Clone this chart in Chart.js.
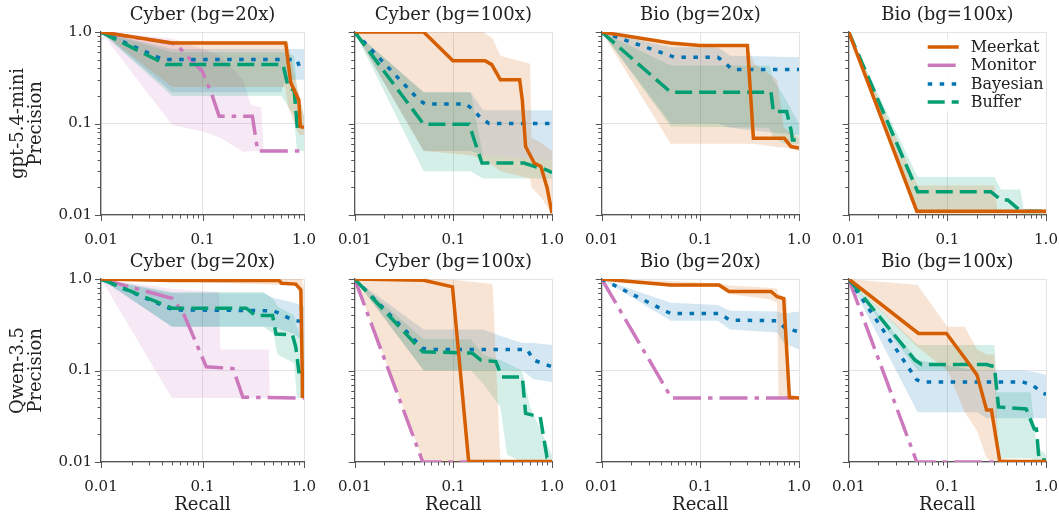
<!DOCTYPE html>
<html><head><meta charset="utf-8">
<script src="https://cdn.jsdelivr.net/npm/chart.js@4.4.1/dist/chart.umd.min.js"></script>
<style>
html,body{margin:0;padding:0;background:#fff;}
#wrap{position:relative;width:1059px;height:514px;overflow:hidden;background:#fff;}
#wrap canvas{position:absolute;}
</style></head><body><div id="wrap"></div>
<script>
// ---------- labels ----------
const seriesNames = ['Meerkat', 'Monitor', 'Bayesian', 'Buffer'];
const rowNames = ['gpt-5.4-mini', 'Qwen-3.5'];
const panelTitles = ['Cyber (bg=20x)', 'Cyber (bg=100x)', 'Bio (bg=20x)', 'Bio (bg=100x)'];
const majorTicks = [0.01, 0.1, 1];
const majorTickLabels = ['0.01', '0.1', '1.0'];
const xAxisTitle = 'Recall';
const yAxisTitle = 'Precision';

// ---------- data: lines [recall, precision]; bands [recall, low, high] ----------
// Row 1 (gpt-5.4-mini), Cyber 20x
const A_meerkat = [[0.01,1],[0.05,0.76],[0.66,0.76],[0.74,0.28],[0.89,0.18],[0.92,0.093],[1,0.09]];
const A_monitor = [[0.01,1],[0.055,0.74],[0.07,0.55],[0.1,0.37],[0.125,0.2],[0.146,0.12],[0.31,0.12],[0.35,0.05],[1,0.05]];
const A_bayesian = [[0.01,1],[0.041,0.5],[0.85,0.5],[0.9,0.42],[1,0.42]];
const A_buffer = [[0.01,1],[0.044,0.44],[0.62,0.44],[0.7,0.25],[0.8,0.23],[0.86,0.089],[1,0.088]];
const A_meerkatBand = [[0.01,1,1],[0.05,0.25,0.8],[0.65,0.25,0.8],[0.7,0.15,0.75],[0.8,0.1,0.35],[0.9,0.075,0.2],[1,0.075,0.12]];
const A_monitorBand = [[0.01,1,1],[0.05,0.097,0.85],[0.1,0.082,0.65],[0.15,0.07,0.55],[0.25,0.049,0.3],[0.3,0.05,0.16],[0.38,0.05,0.15],[0.4,0.05,0.05],[1,0.05,0.05]];
const A_bayesianBand = [[0.01,1,1],[0.05,0.22,0.65],[0.6,0.22,0.65],[0.65,0.3,0.65],[1,0.3,0.65]];
const A_bufferBand = [[0.01,1,1],[0.05,0.2,0.6],[0.6,0.2,0.6],[0.8,0.12,0.55],[0.85,0.05,0.25],[1,0.05,0.12]];

// Row 1, Cyber 100x
const B_meerkat = [[0.01,1],[0.05,1],[0.099,0.485],[0.21,0.485],[0.245,0.44],[0.3,0.3],[0.47,0.3],[0.5,0.18],[0.54,0.056],[0.66,0.037],[0.77,0.034],[0.89,0.02],[1,0.0105]];
const B_bayesian = [[0.01,1],[0.045,0.18],[0.052,0.163],[0.135,0.163],[0.16,0.14],[0.19,0.115],[0.23,0.1],[1,0.1]];
const B_buffer = [[0.01,1],[0.05,0.098],[0.145,0.098],[0.16,0.07],[0.195,0.037],[0.52,0.037],[0.66,0.034],[0.89,0.031],[1,0.029]];
const B_meerkatBand = [[0.01,1,1],[0.05,0.05,1],[0.15,0.045,1],[0.2,0.04,1],[0.25,0.035,0.85],[0.3,0.03,0.55],[0.6,0.025,0.45],[0.62,0.02,0.07],[0.8,0.015,0.06],[1,0.01,0.05]];
const B_bayesianBand = [[0.01,1,1],[0.05,0.05,0.22],[0.15,0.05,0.22],[0.2,0.045,0.14],[1,0.04,0.14]];
const B_bufferBand = [[0.01,1,1],[0.05,0.03,0.22],[0.15,0.03,0.22],[0.2,0.025,0.045],[1,0.025,0.04]];

// Row 1, Bio 20x
const C_meerkat = [[0.01,1],[0.05,0.76],[0.099,0.71],[0.3,0.71],[0.345,0.069],[0.71,0.069],[0.83,0.056],[1,0.054]];
const C_bayesian = [[0.01,1],[0.05,0.55],[0.054,0.53],[0.15,0.53],[0.17,0.48],[0.21,0.39],[1,0.39]];
const C_buffer = [[0.01,1],[0.05,0.22],[0.52,0.22],[0.55,0.135],[0.75,0.135],[0.83,0.085],[0.86,0.066],[1,0.066]];
const C_meerkatBand = [[0.01,1,1],[0.05,0.06,0.72],[0.3,0.06,0.72],[0.35,0.06,0.45],[0.6,0.055,0.3],[0.7,0.055,0.09],[1,0.05,0.07]];
const C_bayesianBand = [[0.01,1,1],[0.05,0.1,0.68],[0.15,0.1,0.68],[0.2,0.09,0.55],[0.5,0.08,0.54],[1,0.075,0.53]];
const C_bufferBand = [[0.01,1,1],[0.05,0.093,0.43],[0.5,0.09,0.43],[0.55,0.07,0.3],[0.7,0.06,0.2],[1,0.06,0.1]];

// Row 1, Bio 100x
const D_meerkat = [[0.01,1],[0.049,0.011],[1,0.011]];
const D_buffer = [[0.01,1],[0.05,0.018],[0.275,0.018],[0.35,0.0146],[0.41,0.0146],[0.54,0.0113],[0.6,0.011],[1,0.011]];
const D_meerkatBand = [[0.01,1,1],[0.05,0.01,0.021],[0.3,0.01,0.021],[0.32,0.01,0.0115],[1,0.01,0.0115]];
const D_bufferBand = [[0.01,1,1],[0.05,0.011,0.026],[0.3,0.011,0.026],[0.35,0.011,0.019],[0.55,0.011,0.019],[0.6,0.01,0.011],[1,0.01,0.011]];

// Row 2 (Qwen-3.5), Cyber 20x
const E_meerkat = [[0.01,1],[0.05,0.96],[0.57,0.96],[0.6,0.9],[0.83,0.88],[0.93,0.76],[0.96,0.1],[0.965,0.05]];
const E_monitor = [[0.01,1],[0.051,0.61],[0.065,0.42],[0.109,0.11],[0.2,0.105],[0.25,0.051],[1,0.05]];
const E_bayesian = [[0.01,1],[0.051,0.46],[0.5,0.45],[0.78,0.355],[1,0.34]];
const E_buffer = [[0.01,1],[0.05,0.48],[0.27,0.48],[0.33,0.4],[0.49,0.4],[0.53,0.25],[0.77,0.245],[0.83,0.18],[0.89,0.097],[1,0.097]];
const E_meerkatBand = [[0.01,1,1],[0.9,0.85,1],[0.95,0.1,1],[1,0.05,0.8]];
const E_monitorBand = [[0.01,1,1],[0.05,0.05,0.78],[0.145,0.05,0.72],[0.15,0.05,0.17],[0.45,0.05,0.17],[0.46,0.05,0.05],[1,0.05,0.05]];
const E_bayesianBand = [[0.01,1,1],[0.05,0.3,0.7],[0.4,0.3,0.7],[0.5,0.3,0.62],[0.8,0.25,0.55],[1,0.2,0.5]];
const E_bufferBand = [[0.01,1,1],[0.05,0.3,0.72],[0.4,0.3,0.72],[0.5,0.25,0.6],[0.55,0.15,0.5],[0.8,0.12,0.4],[0.85,0.05,0.3],[1,0.05,0.2]];

// Row 2, Cyber 100x
const F_meerkat = [[0.01,1],[0.05,0.97],[0.098,0.82],[0.143,0.0101],[1,0.0101]];
const F_monitor = [[0.01,1],[0.049,0.01],[1,0.01]];
const F_bayesian = [[0.01,1],[0.049,0.175],[0.055,0.17],[0.56,0.17],[0.65,0.13],[1,0.11]];
const F_buffer = [[0.01,1],[0.049,0.16],[0.155,0.155],[0.19,0.13],[0.27,0.125],[0.31,0.085],[0.5,0.085],[0.54,0.034],[0.76,0.031],[0.89,0.0112],[1,0.011]];
const F_meerkatBand = [[0.01,1,1],[0.05,0.01,1],[0.1,0.01,0.98],[0.25,0.01,0.88],[0.3,0.01,0.01],[1,0.01,0.01]];
const F_bayesianBand = [[0.01,1,1],[0.05,0.1,0.28],[0.2,0.1,0.28],[0.3,0.1,0.24],[0.5,0.1,0.2],[0.65,0.08,0.2],[1,0.075,0.19]];
const F_bufferBand = [[0.01,1,1],[0.05,0.1,0.22],[0.15,0.1,0.22],[0.2,0.072,0.15],[0.3,0.04,0.13],[0.35,0.012,0.12],[0.5,0.01,0.1],[0.6,0.01,0.04],[1,0.01,0.012]];

// Row 2, Bio 20x
const G_meerkat = [[0.01,1],[0.05,0.86],[0.155,0.86],[0.195,0.73],[0.52,0.73],[0.6,0.64],[0.7,0.61],[0.8,0.051],[1,0.05]];
const G_monitor = [[0.01,1],[0.051,0.05],[1,0.05]];
const G_bayesian = [[0.01,1],[0.05,0.42],[0.155,0.42],[0.2,0.355],[0.6,0.35],[0.73,0.29],[1,0.265]];
const G_meerkatBand = [[0.01,1,1],[0.05,0.82,0.95],[0.15,0.82,0.9],[0.2,0.68,0.85],[0.5,0.6,0.8],[0.6,0.55,0.78],[0.62,0.05,0.7],[0.75,0.05,0.6],[0.78,0.05,0.05],[1,0.05,0.05]];
const G_bayesianBand = [[0.01,1,1],[0.05,0.35,0.55],[0.15,0.35,0.52],[0.2,0.28,0.45],[0.6,0.26,0.44],[0.7,0.2,0.42],[1,0.17,0.44]];

// Row 2, Bio 100x
const H_meerkat = [[0.01,1],[0.051,0.254],[0.098,0.254],[0.17,0.114],[0.2,0.089],[0.25,0.037],[0.28,0.037],[0.34,0.0102],[1,0.0101]];
const H_monitor = [[0.01,1],[0.049,0.01],[1,0.01]];
const H_bayesian = [[0.01,1],[0.049,0.079],[0.055,0.075],[0.58,0.075],[0.73,0.069],[0.92,0.057],[1,0.055]];
const H_buffer = [[0.01,1],[0.047,0.13],[0.055,0.116],[0.25,0.116],[0.3,0.11],[0.33,0.04],[0.63,0.038],[0.76,0.023],[0.8,0.023],[0.85,0.0105],[1,0.0105]];
const H_meerkatBand = [[0.01,1,1],[0.05,0.18,0.86],[0.1,0.1,0.3],[0.15,0.035,0.3],[0.2,0.022,0.17],[0.25,0.011,0.15],[0.3,0.01,0.15],[0.33,0.01,0.011],[1,0.01,0.01]];
const H_bayesianBand = [[0.01,1,1],[0.05,0.035,0.13],[0.2,0.035,0.1],[0.25,0.03,0.1],[0.6,0.03,0.1],[0.8,0.03,0.095],[1,0.03,0.09]];
const H_bufferBand = [[0.01,1,1],[0.05,0.1,0.19],[0.3,0.1,0.19],[0.32,0.011,0.058],[0.7,0.011,0.058],[0.8,0.01,0.015],[1,0.01,0.012]];

// ---------- styles ----------
const seriesColors = ['#D55E00', '#CC78BC', '#0173B2', '#029E73'];
const bandColors = ['rgba(213,94,0,0.17)', 'rgba(204,120,188,0.17)', 'rgba(1,115,178,0.17)', 'rgba(2,158,115,0.17)'];
const seriesDash = [[], [28, 7, 4.5, 7], [4.5, 7.5], [17, 7]];
const FONT = "'DejaVu Serif', serif";
const TEXT = '#222222';
const SPINE = '#555555';
const GRID = '#e4e4e4';

const panels = [
  {row:0, col:0, lines:[A_meerkat, A_monitor, A_bayesian, A_buffer], bands:[A_meerkatBand, A_monitorBand, A_bayesianBand, A_bufferBand]},
  {row:0, col:1, lines:[B_meerkat, null, B_bayesian, B_buffer], bands:[B_meerkatBand, null, B_bayesianBand, B_bufferBand]},
  {row:0, col:2, lines:[C_meerkat, null, C_bayesian, C_buffer], bands:[C_meerkatBand, null, C_bayesianBand, C_bufferBand]},
  {row:0, col:3, lines:[D_meerkat, null, null, D_buffer], bands:[D_meerkatBand, null, null, D_bufferBand], legend:true},
  {row:1, col:0, lines:[E_meerkat, E_monitor, E_bayesian, E_buffer], bands:[E_meerkatBand, E_monitorBand, E_bayesianBand, E_bufferBand]},
  {row:1, col:1, lines:[F_meerkat, F_monitor, F_bayesian, F_buffer], bands:[F_meerkatBand, null, F_bayesianBand, F_bufferBand]},
  {row:1, col:2, lines:[G_meerkat, G_monitor, G_bayesian, null], bands:[G_meerkatBand, null, G_bayesianBand, null]},
  {row:1, col:3, lines:[H_meerkat, H_monitor, H_bayesian, H_buffer], bands:[H_meerkatBand, null, H_bayesianBand, H_bufferBand]}
];

// ---------- layout ----------
const colLeft = [101, 349, 596, 843];
const rowTop = [32, 279];
const PW = 203, PH = 183, TITLE_H = 28, PAD_R = 22;
const padBottom = [40, 52];

// all log ticks (1..9 x 10^k) between 0.01 and 1
const allTicks = [];
[0.01, 0.1].forEach(d => { for (let k = 1; k <= 9; k++) allTicks.push(+(k * d).toPrecision(3)); });
allTicks.push(1);
const isMajor = v => majorTicks.some(m => Math.abs(Math.log10(v) - Math.log10(m)) < 1e-6);
const tickLabel = v => { const i = majorTicks.findIndex(m => Math.abs(Math.log10(v) - Math.log10(m)) < 1e-6); return i >= 0 ? majorTickLabels[i] : ''; };

const tickMarks = {
  id: 'tickMarks',
  afterDraw(chart) {
    const {ctx, chartArea: a, scales: {x, y}} = chart;
    ctx.save();
    ctx.strokeStyle = SPINE; ctx.lineWidth = 1;
    allTicks.forEach(v => {
      const len = isMajor(v) ? 6 : 3.5;
      const px = Math.round(x.getPixelForValue(v)) + 0.5;
      ctx.beginPath(); ctx.moveTo(px, a.bottom); ctx.lineTo(px, a.bottom + len); ctx.stroke();
      const py = Math.round(y.getPixelForValue(v)) + 0.5;
      ctx.beginPath(); ctx.moveTo(a.left, py); ctx.lineTo(a.left - len, py); ctx.stroke();
    });
    ctx.restore();
  }
};

const legendBox = {
  id: 'legendBox',
  afterDraw(chart) {
    const {ctx, chartArea: a} = chart;
    ctx.save();
    const bx = a.left + 70, by = a.top + 7, bw = a.right - 3 - bx, bh = 72;
    ctx.fillStyle = 'rgba(255,255,255,0.85)';
    ctx.beginPath();
    if (ctx.roundRect) ctx.roundRect(bx, by, bw, bh, 3); else ctx.rect(bx, by, bw, bh);
    ctx.fill();
    const rows = [15, 33.3, 52, 70];
    ctx.font = '16px ' + FONT;
    ctx.textBaseline = 'middle';
    seriesNames.forEach((n, i) => {
      const yy = a.top + rows[i];
      ctx.strokeStyle = seriesColors[i];
      ctx.lineWidth = 3.5;
      ctx.setLineDash(seriesDash[i]);
      ctx.beginPath(); ctx.moveTo(a.left + 79, yy); ctx.lineTo(a.left + 110, yy); ctx.stroke();
      ctx.setLineDash([]);
      ctx.fillStyle = TEXT;
      ctx.fillText(n, a.left + 122, yy + 1);
    });
    ctx.restore();
  }
};

const wrap = document.getElementById('wrap');
const lineOrder = [0, 3, 2, 1];

panels.forEach(p => {
  const padL = p.col === 0 ? 101 : 20;
  const padB = padBottom[p.row];
  const cv = document.createElement('canvas');
  const W = padL + PW + PAD_R, H = TITLE_H + PH + padB;
  cv.width = W; cv.height = H;
  cv.style.left = (colLeft[p.col] - padL) + 'px';
  cv.style.top = (rowTop[p.row] - TITLE_H) + 'px';
  cv.style.width = W + 'px'; cv.style.height = H + 'px';
  wrap.appendChild(cv);

  const datasets = [];
  lineOrder.forEach(i => {
    if (!p.lines[i]) return;
    datasets.push({
      data: p.lines[i].map(([x, y]) => ({x, y})),
      borderColor: seriesColors[i], borderWidth: 3.5, borderDash: seriesDash[i],
      borderCapStyle: 'butt', borderJoinStyle: 'miter',
      pointRadius: 0, fill: false, tension: 0
    });
  });
  lineOrder.forEach(i => {
    const b = p.bands[i];
    if (!b) return;
    datasets.push({data: b.map(([x, lo, hi]) => ({x, y: hi})), borderColor: 'rgba(0,0,0,0)', borderWidth: 0, pointRadius: 0, fill: '+1', backgroundColor: bandColors[i], tension: 0});
    datasets.push({data: b.map(([x, lo]) => ({x, y: lo})), borderColor: 'rgba(0,0,0,0)', borderWidth: 0, pointRadius: 0, fill: false, tension: 0});
  });

  const axisCommon = {
    type: 'logarithmic', min: 0.01, max: 1,
    afterBuildTicks: s => { s.ticks = allTicks.map(v => ({value: v})); },
    grid: {
      color: c => (c.tick && isMajor(c.tick.value)) ? GRID : 'rgba(0,0,0,0)',
      lineWidth: 1, drawTicks: true, tickLength: 7, tickColor: 'rgba(0,0,0,0)'
    },
    border: {display: true, color: SPINE, width: 1.3}
  };

  new Chart(cv, {
    type: 'line',
    data: {datasets},
    options: {
      responsive: false, animation: false, devicePixelRatio: 1, events: [],
      layout: {padding: {left: 0, top: 0, right: PAD_R, bottom: 0}, autoPadding: false},
      plugins: {
        legend: {display: false}, tooltip: {enabled: false},
        filler: {drawTime: 'beforeDatasetsDraw'},
        title: {display: true, text: panelTitles[p.col], fullSize: false, color: TEXT,
                font: {family: FONT, size: 18, weight: 'normal', lineHeight: 22 / 18}, padding: {top: 0, bottom: 6}}
      },
      scales: {
        x: Object.assign({}, axisCommon, {
          position: 'bottom',
          afterFit: s => { s.height = padB; },
          ticks: {autoSkip: false, maxRotation: 0, minRotation: 0, padding: 9, color: TEXT,
                  font: {family: FONT, size: 15}, callback: v => tickLabel(v)},
          title: {display: p.row === 1, text: xAxisTitle, color: TEXT,
                  font: {family: FONT, size: 18, lineHeight: 1}, padding: {top: 0, bottom: 0}}
        }),
        y: Object.assign({}, axisCommon, {
          position: 'left',
          afterFit: s => { s.width = padL; },
          ticks: {display: p.col === 0, autoSkip: false, padding: 2, color: TEXT,
                  font: {family: FONT, size: 15}, callback: v => tickLabel(v)},
          title: {display: p.col === 0, text: [rowNames[p.row], yAxisTitle], color: TEXT,
                  font: {family: FONT, size: 18, lineHeight: 1}, padding: {top: 9, bottom: 0}}
        })
      }
    },
    plugins: p.legend ? [tickMarks, legendBox] : [tickMarks]
  });
});
</script>
</body></html>
